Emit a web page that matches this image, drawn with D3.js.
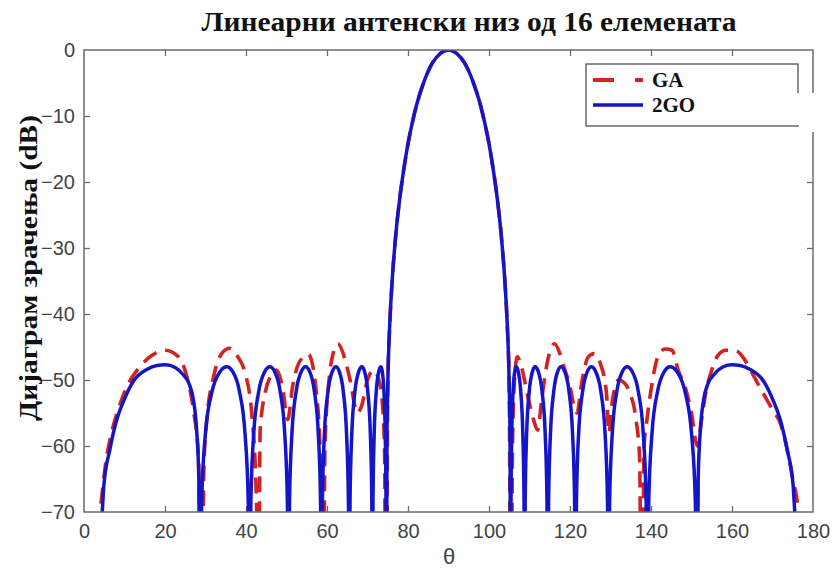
<!DOCTYPE html>
<html>
<head>
<meta charset="utf-8">
<script src="https://cdn.jsdelivr.net/npm/d3@7"></script>
<style>
  html, body { margin: 0; padding: 0; background: #fff; }
  svg { display: block; }
</style>
</head>
<body>
<svg id="chart" width="834" height="572"></svg>
<script>
// Radiation pattern of a 16-element linear array: GA vs 2GO optimisation

const chartTitle = "Линеарни антенски низ од 16 елемената";
const yLabel = "Дијаграм зрачења (dB)";
const xLabel = "θ";
const seriesNames = ["GA", "2GO"];

const xTicks = [0, 20, 40, 60, 80, 100, 120, 140, 160, 180];
const yTicks = [0, -10, -20, -30, -40, -50, -60, -70];

// 2GO pattern (angle in degrees, level in dB); nulls fall below the -70 dB floor
const theta2GO = [
  2, 3, 4.5, 4.9, 6.4, 8.1, 9.9, 12.4, 15.5, 18, 20.16, 22.5, 24.5, 25.9, 27, 27.8, 28.35, 28.65,
  29.05, 29.97, 31.63, 33.62, 35.27, 36.68, 38.37, 39.77, 40.56, 40.90,
  41.20, 41.90, 43.15, 44.66, 45.91, 47.06, 48.43, 49.57, 50.22, 50.49,
  50.74, 51.33, 52.39, 53.66, 54.71, 55.70, 56.88, 57.86, 58.41, 58.65,
  58.86, 59.36, 60.25, 61.32, 62.21, 63.03, 64.01, 64.83, 65.29, 65.49,
  65.68, 66.12, 66.90, 67.84, 68.62, 69.27, 70.06, 70.71, 71.07, 71.23,
  71.35, 71.65, 72.17, 72.79, 73.31, 73.65, 74.05, 74.38, 74.57, 74.65,
  74.8, 75, 75.5, 76, 77, 78, 79, 80, 81, 82, 83, 84, 85, 86, 88, 90,
  92, 94, 95, 96, 97, 98, 99, 100, 101, 102, 103, 104, 104.5, 105, 105.2, 105.35,
  105.43, 105.62, 105.95, 106.35, 106.69, 107.21, 107.83, 108.35, 108.65, 108.77,
  108.93, 109.29, 109.94, 110.73, 111.38, 112.16, 113.10, 113.88, 114.32, 114.51,
  114.71, 115.17, 115.99, 116.97, 117.79, 118.68, 119.75, 120.64, 121.14, 121.35,
  121.59, 122.12, 123.12, 124.30, 125.29, 126.34, 127.61, 128.67, 129.26, 129.51,
  129.78, 130.43, 131.57, 132.94, 134.09, 135.34, 136.85, 138.10, 138.80, 139.10,
  139.44, 140.23, 141.63, 143.32, 144.73, 146.38, 148.37, 150.03, 150.95, 151.35,
  151.65, 152.2, 153, 154.1, 155.5, 157.5, 159.84, 162, 164.5, 167.6, 170.1, 171.9, 173.6, 175.1, 175.5, 177, 178
];
const db2GO = [
  -84, -77, -70, -66, -60.5, -56, -53, -50, -48.4, -47.8, -47.7, -48.1, -49.2, -50.5, -53, -57.5, -65, -100,
  -68.5, -58.2, -51.7, -48.7, -48, -48.7, -51.7, -58.2, -68.5, -100,
  -68.5, -58.2, -51.7, -48.7, -48, -48.7, -51.7, -58.2, -68.5, -100,
  -68.5, -58.2, -51.7, -48.7, -48, -48.7, -51.7, -58.2, -68.5, -100,
  -68.5, -58.2, -51.7, -48.7, -48, -48.7, -51.7, -58.2, -68.5, -100,
  -68.5, -58.2, -51.7, -48.7, -48, -48.7, -51.7, -58.2, -68.5, -100,
  -68.5, -58.2, -51.7, -48.7, -48, -48.7, -51.7, -58.2, -68.5, -100,
  -59.3, -51.1, -41.5, -35.8, -27.9, -22.3, -17.9, -14.2, -11.2, -8.6, -6.5, -4.7, -3.2, -2.0, -0.5, 0,
  -0.5, -2.0, -3.2, -4.7, -6.5, -8.6, -11.2, -14.2, -17.9, -22.3, -27.9, -35.8, -41.5, -51.1, -59.3, -100,
  -68.5, -58.2, -51.7, -48.7, -48, -48.7, -51.7, -58.2, -68.5, -100,
  -68.5, -58.2, -51.7, -48.7, -48, -48.7, -51.7, -58.2, -68.5, -100,
  -68.5, -58.2, -51.7, -48.7, -48, -48.7, -51.7, -58.2, -68.5, -100,
  -68.5, -58.2, -51.7, -48.7, -48, -48.7, -51.7, -58.2, -68.5, -100,
  -68.5, -58.2, -51.7, -48.7, -48, -48.7, -51.7, -58.2, -68.5, -100,
  -68.5, -58.2, -51.7, -48.7, -48, -48.7, -51.7, -58.2, -68.5, -100,
  -65, -57.5, -53, -50.5, -49.2, -48.1, -47.7, -47.8, -48.4, -50, -53, -56, -60.5, -66, -70, -77, -84
];

// GA pattern (angle in degrees, level in dB)
const thetaGA = [
  2, 3.95, 5.5, 7, 9, 11, 13.8, 16.7, 20, 23, 25.4, 27, 28.3, 29,
  29.6, 30.5, 32, 34, 36, 38, 39.8, 41.4, 42.6, 43,
  43.5, 44.7, 46, 47.5, 49, 50.3, 51.5, 53, 55.4, 57.4, 58.7, 59,
  59.5, 60.5, 61.5, 62.7, 64.5, 65.7, 67.5, 68.5, 70, 71.5, 72.8, 73.6, 74.2, 74.6,
  75, 75.5, 76, 77, 78, 79, 80, 81, 82, 83, 84, 85, 86, 88, 90,
  92, 94, 95, 96, 97, 98, 99, 100, 101, 102, 103, 104, 104.5, 105, 105.4,
  105.8, 106.3, 107, 108, 109.6, 111, 112, 113, 114.5, 116.2, 117.5, 118.5, 120, 121, 121.7,
  123, 124.5, 126, 127.5, 129, 129.6, 130.5, 132, 133.5, 134.8, 136.3, 137.2, 137.7,
  138.3, 139, 140, 141.7, 143.5, 145.2, 146.7, 148.4, 150, 151.4,
  152.5, 153.5, 155, 156.5, 158.5, 161, 163, 165, 167.7, 170, 171.9, 173.8, 175, 176, 176.4, 178
];
const dbGA = [
  -80, -70, -62, -57.5, -53.5, -50.5, -48, -46.3, -45.5, -46.3, -49.5, -54.5, -62, -100,
  -63, -55, -49.5, -46, -45.2, -46.5, -49, -55, -68.6, -100,
  -57.6, -52, -49.5, -48.5, -51, -56, -51, -47.5, -46.1, -52, -68, -100,
  -60, -50, -46, -44.5, -47, -50, -55, -54, -50, -48.5, -50, -53, -60, -100,
  -51.1, -41.5, -35.8, -27.9, -22.3, -17.9, -14.2, -11.2, -8.6, -6.5, -4.7, -3.2, -2.0, -0.5, 0,
  -0.5, -2.0, -3.2, -4.7, -6.5, -8.6, -11.2, -14.2, -17.9, -22.3, -27.9, -35.8, -41.5, -51.1, -100,
  -60, -50, -46.5, -48, -52.5, -56, -57.6, -53, -47, -44.5, -46, -48, -51, -54, -55,
  -50, -46.5, -46, -47.5, -52, -58, -53, -50, -50.5, -52, -56, -62, -100,
  -60, -56, -51.5, -46.5, -45.3, -45.5, -48.5, -51, -55, -60,
  -56, -52, -48.5, -46.3, -45.5, -45.6, -46.8, -49, -52, -54.5, -56.5, -61, -65, -68, -70, -80
];

const W = 834, H = 572;
const margin = { left: 84, right: 834 - 813, top: 50, bottom: 572 - 512 };
const plotW = W - margin.left - margin.right;
const plotH = H - margin.top - margin.bottom;

const svg = d3.select("#chart");
svg.append("rect").attr("width", W).attr("height", H).attr("fill", "#fff");

const x = d3.scaleLinear().domain([0, 180]).range([0, plotW]);
const y = d3.scaleLinear().domain([-70, 0]).range([plotH, 0]);

const g = svg.append("g").attr("transform", `translate(${margin.left},${margin.top})`);

g.append("clipPath").attr("id", "plotClip")
  .append("rect").attr("width", plotW).attr("height", plotH);

const axisColor = "#6b6b6b";
const tickFont = "'Liberation Sans', Arial, sans-serif";
const serif = "'Liberation Serif', 'Times New Roman', serif";

// axes with inward ticks on all four sides
function styleAxis(sel) {
  sel.select(".domain").remove();
  sel.selectAll(".tick line").attr("stroke", axisColor).attr("stroke-width", 1.3);
  sel.selectAll(".tick text").attr("fill", "#444")
    .attr("font-family", tickFont).attr("font-size", 20);
}

const xAxis = g.append("g").attr("transform", `translate(0,${plotH})`)
  .call(d3.axisBottom(x).tickValues(xTicks).tickSize(-6).tickPadding(12).tickFormat(d3.format("d")));
styleAxis(xAxis);

const xAxisTop = g.append("g")
  .call(d3.axisTop(x).tickValues(xTicks).tickSize(-6).tickFormat(""));
styleAxis(xAxisTop);

const yAxis = g.append("g")
  .call(d3.axisLeft(y).tickValues(yTicks).tickSize(-6).tickPadding(9).tickFormat(d3.format("d")));
styleAxis(yAxis);

const yAxisRight = g.append("g").attr("transform", `translate(${plotW},0)`)
  .call(d3.axisRight(y).tickValues(yTicks).tickSize(-6).tickFormat(""));
styleAxis(yAxisRight);

// hide end ticks that sit on the frame corners
[xAxis, xAxisTop].forEach(a => a.selectAll(".tick").filter(d => d === 0 || d === 180).select("line").remove());
[yAxis, yAxisRight].forEach(a => a.selectAll(".tick").filter(d => d === 0 || d === -70).select("line").remove());

// series
const line = d3.line()
  .x(d => x(d[0]))
  .y(d => y(d[1]))
  .curve(d3.curveMonotoneX);

const gaPts = thetaGA.map((t, i) => [t, dbGA[i]]);
const goPts = theta2GO.map((t, i) => [t, db2GO[i]]);

const colorGA = "#d42222";
const color2GO = "#1414c8";

const plot = g.append("g").attr("clip-path", "url(#plotClip)");
plot.append("path").datum(gaPts)
  .attr("d", line).attr("fill", "none")
  .attr("stroke", colorGA).attr("stroke-width", 3.6)
  .attr("stroke-dasharray", "16,9");
plot.append("path").datum(goPts)
  .attr("d", line).attr("fill", "none")
  .attr("stroke", color2GO).attr("stroke-width", 3.5)
  .attr("stroke-linejoin", "round");

// frame
g.append("rect").attr("width", plotW).attr("height", plotH)
  .attr("fill", "none").attr("stroke", axisColor).attr("stroke-width", 1.5);

// legend
const leg = svg.append("g");
leg.append("rect").attr("x", 586).attr("y", 64).attr("width", 212).attr("height", 62)
  .attr("fill", "#fff").attr("stroke", axisColor).attr("stroke-width", 1.5);
leg.append("line").attr("x1", 593).attr("x2", 643).attr("y1", 80).attr("y2", 80)
  .attr("stroke", colorGA).attr("stroke-width", 4).attr("stroke-dasharray", "21,21");
leg.append("line").attr("x1", 593).attr("x2", 643).attr("y1", 105).attr("y2", 105)
  .attr("stroke", color2GO).attr("stroke-width", 3.6);
leg.append("text").attr("x", 652).attr("y", 87).text(seriesNames[0])
  .attr("font-family", serif).attr("font-weight", "bold").attr("font-size", 21).attr("fill", "#111");
leg.append("text").attr("x", 652).attr("y", 112).text(seriesNames[1])
  .attr("font-family", serif).attr("font-weight", "bold").attr("font-size", 21).attr("fill", "#111");

// white patch over the frame's right edge beside the legend
svg.append("rect").attr("x", 799).attr("y", 93).attr("width", 35).attr("height", 39).attr("fill", "#fff");
svg.append("rect").attr("x", 793).attr("y", 93).attr("width", 8).attr("height", 32).attr("fill", "#fff");

// title and axis labels
svg.append("text").attr("x", 469).attr("y", 31).attr("text-anchor", "middle")
  .attr("font-family", serif).attr("font-weight", "bold").attr("font-size", 27).attr("fill", "#111")
  .attr("textLength", 535).attr("lengthAdjust", "spacingAndGlyphs")
  .text(chartTitle);

svg.append("text").attr("x", 449).attr("y", 564).attr("text-anchor", "middle")
  .attr("font-family", tickFont).attr("font-size", 22).attr("fill", "#444")
  .text(xLabel);

svg.append("text")
  .attr("transform", "translate(37,268) rotate(-90)")
  .attr("text-anchor", "middle")
  .attr("font-family", serif).attr("font-weight", "bold").attr("font-size", 26).attr("fill", "#111")
  .attr("textLength", 306).attr("lengthAdjust", "spacingAndGlyphs")
  .text(yLabel);
</script>
</body>
</html>
